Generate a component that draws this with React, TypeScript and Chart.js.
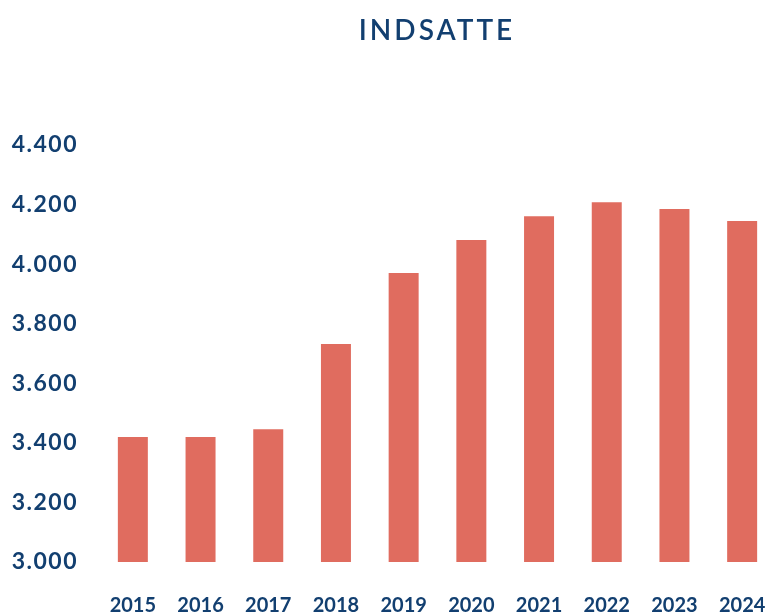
import React, { useEffect, useRef } from "react";
import { Chart, registerables } from "chart.js";

Chart.register(...registerables);

const TITLE = "INDSATTE";
const years = ["2015", "2016", "2017", "2018", "2019", "2020", "2021", "2022", "2023", "2024"];
const values = [3420, 3420, 3446, 3732, 3970, 4081, 4161, 4208, 4185, 4145];
const yMin = 3000;
const yMax = 4400;
const yStep = 200;

const BLUE = "#123F70";
const BAR = "#E06C5F";

function fmt(v: number): string {
  const s = String(Math.round(v));
  return s.replace(/\B(?=(\d{3})+(?!\d))/g, ".");
}

export default function App() {
  const ref = useRef<HTMLCanvasElement | null>(null);
  useEffect(() => {
    const canvas = ref.current!;
    const spacingPlugin = {
      id: "spacing",
      beforeDraw(chart: any) {
        (chart.ctx as any).letterSpacing = "0px";
      },
      afterDatasetsDraw(chart: any) {
        (chart.ctx as any).letterSpacing = "1.5px";
      },
      afterDraw(chart: any) {
        const ctx = chart.ctx;
        ctx.save();
        ctx.font = "600 28px Lato";
        (ctx as any).letterSpacing = "3px";
        ctx.fillStyle = BLUE;
        ctx.textAlign = "center";
        ctx.textBaseline = "middle";
        ctx.fillText(TITLE, 437, 31);
        ctx.restore();
        (ctx as any).letterSpacing = "0px";
      },
    };
    const chart = new Chart(canvas, {
      type: "bar",
      data: {
        labels: years,
        datasets: [
          {
            data: values,
            backgroundColor: BAR,
            borderWidth: 0,
            barPercentage: 0.443,
            categoryPercentage: 1,
          },
        ],
      },
      options: {
        responsive: false,
        animation: false,
        layout: { padding: { top: 145, right: 4, bottom: 0, left: 0 } },
        plugins: { legend: { display: false }, title: { display: false }, tooltip: { enabled: false } },
        scales: {
          x: {
            grid: { display: true, drawOnChartArea: false, drawTicks: true, tickLength: 32, tickColor: "rgba(0,0,0,0)" },
            border: { display: false },
            ticks: {
              color: BLUE,
              font: { family: "Lato", size: 20, weight: "bold" },
              padding: 0,
              maxRotation: 0,
              autoSkip: false,
            },
            afterFit(scale: any) {
              scale.height = 58;
            },
          },
          y: {
            min: yMin,
            max: yMax,
            grid: { display: false, drawTicks: false },
            border: { display: false },
            ticks: {
              z: 1,
              stepSize: yStep,
              color: BLUE,
              font: { family: "Lato", size: 23, weight: "bold" },
              padding: 21,
              callback: (v: any) => fmt(Number(v)),
            },
            afterFit(scale: any) {
              scale.width = 99;
            },
          },
        },
      },
      plugins: [spacingPlugin],
    });
    return () => chart.destroy();
  }, []);
  return (
    <div style={{ position: "fixed", left: 0, top: 0, width: 773, height: 613, overflow: "hidden", background: "#fff" }}>
      <canvas ref={ref} width={780} height={620} style={{ display: "block" }} />
    </div>
  );
}
